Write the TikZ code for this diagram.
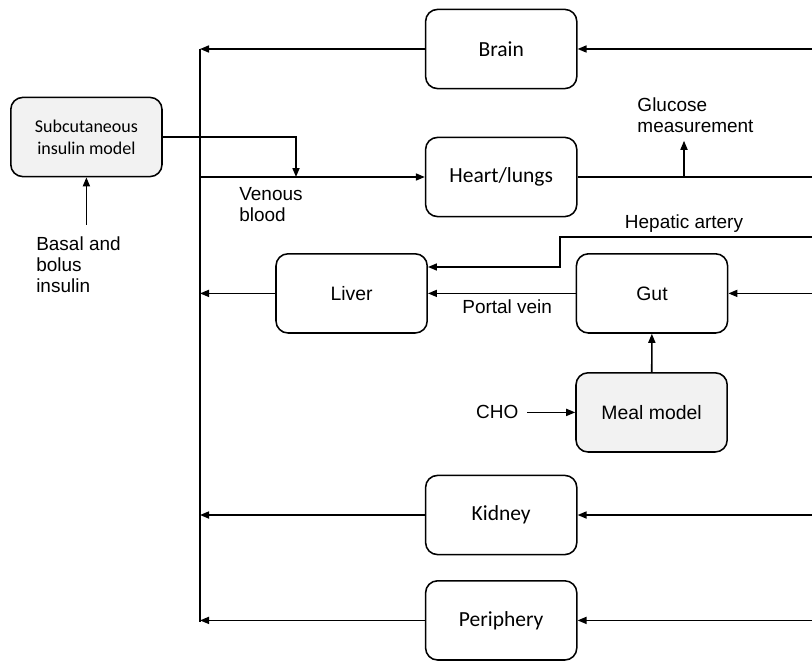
\documentclass[tikz,border=0pt]{standalone}
\usepackage{fontspec}
\setmainfont{Liberation Sans}
\newfontfamily\calfont{Carlito}
\usetikzlibrary{positioning,arrows.meta}
\definecolor{boxgray}{RGB}{242,242,242}

\begin{document}
\begin{tikzpicture}[
    organ/.style={draw, rounded corners=0.3cm, minimum width=3.78cm, minimum height=1.98cm, line width=1.1pt, align=center, font=\calfont\fontsize{15.3}{18}\selectfont},
    organb/.style={organ, font=\fontsize{13.8}{16}\selectfont},
    model/.style={organ, fill=boxgray},
    lbl/.style={inner sep=0pt, align=left, font=\fontsize{13.5}{15}\selectfont},
    flow/.style={line width=1.1pt, -{Triangle[length=6.4pt,width=5pt]}},
    wire/.style={line width=1.1pt}
]
  \useasboundingbox (0,0) rectangle (20.3,16.5);

  % boxes
  \node[organ] (brain) at (12.53,15.275) {Brain};
  \node[organ] (heart) at (12.53,12.075) {Heart/lungs};
  \node[model, font=\calfont\fontsize{12.8}{15.5}\selectfont] (subq) at (2.16,13.075) {Subcutaneous\\insulin model};
  \node[organb] (liver) at (8.79,9.165) {Liver};
  \node[organb] (gut) at (16.3,9.165) {Gut};
  \node[organb, fill=boxgray] (meal) at (16.29,6.19) {Meal model};
  \node[organ] (kidney) at (12.53,3.625) {Kidney};
  \node[organ] (periph) at (12.53,0.99) {Periphery};

  % labels
  \node[lbl, anchor=west] (venous) at (5.975,11.39) {Venous\\blood};
  \node[lbl, anchor=west] (basal) at (0.9,9.875) {Basal and\\bolus\\insulin};
  \node[lbl, anchor=west] (glucose) at (15.93,13.625) {Glucose\\measurement};
  \node[lbl] (hepatic) at (17.1,10.9) {Hepatic artery};
  \node[lbl] (portal) at (12.68,8.83) {Portal vein};
  \node[lbl] (cho) at (12.43,6.19) {CHO};

  % bus and free ends
  \coordinate (bustop) at (5,15.275);
  \coordinate (busbot) at (5,0.95);
  \coordinate (inBrain) at (20.3,15.275);
  \coordinate (inHeart) at (20.3,12.075);
  \coordinate (inHepatic) at (20.3,10.575);
  \coordinate (inGut) at (20.3,9.165);
  \coordinate (inKidney) at (20.3,3.625);
  \coordinate (inPeriph) at (20.3,0.99);
  \coordinate (bend) at (14,9.825);
  \coordinate (vtip) at (7.4,12.075);
  \coordinate (tap) at (17.1,12.075);

  \draw[wire] (bustop) -- (busbot);

  % into the bus
  \draw[flow] (brain.west) -- (brain.west -| bustop);
  \draw[flow] (liver.west) -- (liver.west -| bustop);
  \draw[flow] (kidney.west) -- (kidney.west -| bustop);
  \draw[flow] (periph.west) -- (periph.west -| bustop);
  \draw[flow] (heart.west -| bustop) -- (heart.west);

  % from the right
  \draw[flow] (inBrain) -- (brain.east);
  \draw[wire] (heart.east) -- (inHeart);
  \draw[flow] (inGut) -- (gut.east);
  \draw[flow] (inKidney) -- (kidney.east);
  \draw[flow] (inPeriph) -- (periph.east);
  \draw[flow] (inHepatic) -| (bend) -- (bend -| liver.east);
  \draw[flow] (gut.west) -- (liver.east);

  % inputs
  \draw[flow] (meal) -- (gut);
  \draw[flow, shorten <=6pt] (cho) -- (meal);
  \draw[flow] (subq.east) -| (vtip);
  \draw[flow, shorten <=0.3cm] (subq.south |- basal.north) -- (subq.south);
  \draw[flow, shorten >=0.2cm] (tap) -- (tap |- glucose.south);
\end{tikzpicture}
\end{document}
